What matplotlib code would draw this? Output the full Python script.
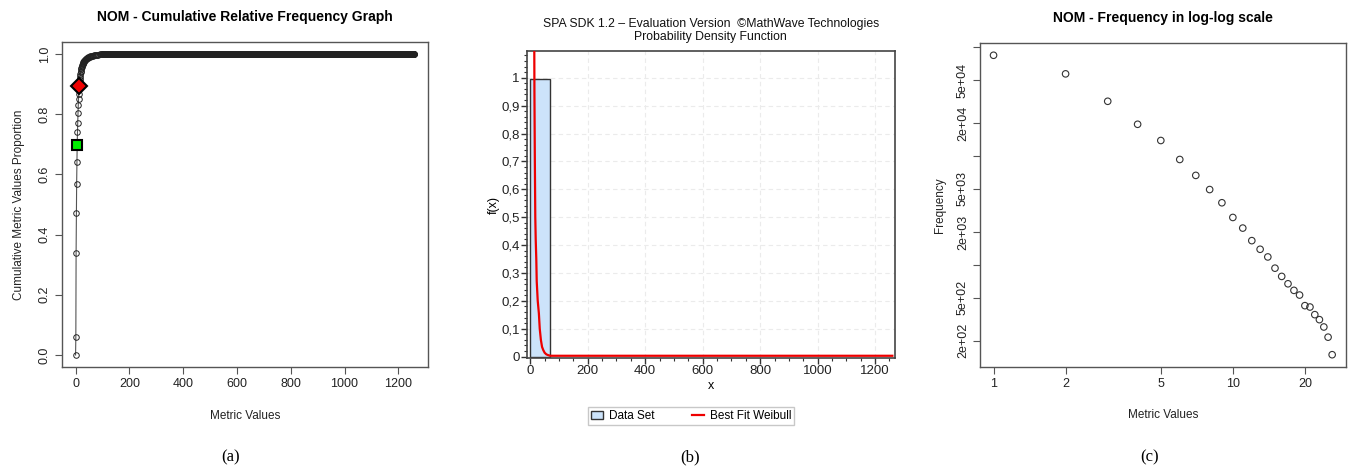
import matplotlib
matplotlib.use("Agg")
import matplotlib.pyplot as plt
from matplotlib.patches import Patch
from matplotlib.lines import Line2D
from matplotlib.ticker import MultipleLocator, FixedLocator
import numpy as np

# (a) cumulative relative frequency, NOM
cum_x = [0, 1, 2, 3, 4, 5, 6, 7, 8, 9, 10, 11, 12, 13,
         14, 15, 16, 17, 18, 19, 20, 21, 22, 23, 24, 25, 26, 27, 28, 29, 30,
         31, 32, 33, 34, 35, 36, 37, 38, 39, 40,
         42, 44, 46, 48, 50, 52, 55, 58, 61, 64, 68, 72, 76, 80, 85, 90, 95, 100]
cum_y = [0.0, 0.059, 0.339, 0.473, 0.568, 0.640, 0.697, 0.740, 0.771, 0.803, 0.829, 0.851, 0.868, 0.895,
         0.905, 0.913, 0.921, 0.928, 0.934, 0.940, 0.945, 0.949, 0.953, 0.957, 0.960, 0.963, 0.966,
         0.968, 0.970, 0.972, 0.974,
         0.976, 0.977, 0.978, 0.979, 0.980, 0.981, 0.982, 0.983, 0.984, 0.985,
         0.986, 0.987, 0.988, 0.989, 0.990, 0.991, 0.992, 0.993, 0.994, 0.995, 0.996, 0.997,
         0.997, 0.998, 0.998, 0.999, 0.999, 0.999]
plateau_first, plateau_last, plateau_value = 101, 1260, 1.0
green_pt = (6, 0.697)
red_pt = (13, 0.895)

# (b) density: histogram bin and best fit weibull
hist_left, hist_right, hist_height = 0, 70, 0.995
weib_x = [14, 14.5, 16, 17.5, 19, 21, 22.5, 26, 30, 33, 37, 41, 45, 50, 56, 63, 70, 1260]
weib_y = [1.12, 0.95, 0.70, 0.50, 0.42, 0.35, 0.27, 0.20, 0.155, 0.10, 0.06, 0.035, 0.024,
          0.014, 0.008, 0.005, 0.003, 0.003]

# (c) frequency log-log
freq_x = list(range(1, 27))
freq_y = [84500, 57000, 31900, 19600, 13900, 9300, 6640, 4920, 3720, 2725, 2176, 1668, 1389,
          1181, 931, 782, 669, 582, 527, 421, 409, 348, 313, 268, 216, 149]

R_FONT = ["Liberation Sans", "DejaVu Sans"]
SPA_FONT = ["Liberation Sans Narrow", "Liberation Sans", "DejaVu Sans"]
plt.rcParams["font.family"] = R_FONT

fig = plt.figure(figsize=(13.48, 4.67), dpi=100)
fig.patch.set_facecolor("white")

def r_style(ax):
    for s in ax.spines.values():
        s.set_color("#555555")
        s.set_linewidth(1.0)
    ax.tick_params(direction="out", length=5, width=0.8, color="#555555",
                   labelsize=9, labelcolor="#222222", pad=3)

# ---------- (a)
ax1 = fig.add_axes([0.046, 0.2141, 0.2715, 0.696])
px = cum_x + list(range(plateau_first, plateau_last + 1))
py = cum_y + [plateau_value] * (plateau_last - plateau_first + 1)
ax1.plot(px, py, color="#555555", lw=0.8, marker="o", ms=4, mfc="none",
         mec="#222222", mew=0.7)
ax1.plot(*green_pt, marker="s", ms=7.5, mfc="#00ee00", mec="black", mew=1.5)
ax1.plot(*red_pt, marker="D", ms=8, mfc="#ee0000", mec="black", mew=1.5)
ax1.set_xlim(-50.4, 1310.4)
ax1.set_ylim(-0.04, 1.04)
ax1.set_xticks([0, 200, 400, 600, 800, 1000, 1200])
ax1.set_yticks([0.0, 0.2, 0.4, 0.6, 0.8, 1.0])
ax1.set_yticklabels(["0.0", "0.2", "0.4", "0.6", "0.8", "1.0"], rotation=90, va="center")
r_style(ax1)
ax1.set_title("NOM - Cumulative Relative Frequency Graph", fontsize=10, fontweight="bold", pad=15)
ax1.set_xlabel("Metric Values", fontsize=8.5, color="#222222", labelpad=14)
ax1.set_ylabel("Cumulative Metric Values Proportion", fontsize=8.5, color="#222222", labelpad=10)

# ---------- (b)
ax2 = fig.add_axes([0.3907, 0.2328, 0.2732, 0.658])
ax2.bar(hist_left, hist_height, width=hist_right - hist_left, align="edge",
        color="#cce3fa", edgecolor="#333333", lw=1.0, zorder=2)
ax2.plot(weib_x, weib_y, color="#ee0000", lw=1.6, zorder=3)
ax2.set_xlim(-12.5, 1269)
ax2.set_ylim(-0.006, 1.096)
ax2.xaxis.set_major_locator(FixedLocator([0, 200, 400, 600, 800, 1000, 1200]))
ax2.xaxis.set_minor_locator(MultipleLocator(50))
yt = [0, 0.1, 0.2, 0.3, 0.4, 0.5, 0.6, 0.7, 0.8, 0.9, 1.0]
ax2.set_yticks(yt)
ax2.set_yticklabels(["0", "0,1", "0,2", "0,3", "0,4", "0,5", "0,6", "0,7", "0,8", "0,9", "1"],
                    family=SPA_FONT)
ax2.set_xticklabels(["0", "200", "400", "600", "800", "1000", "1200"], family=SPA_FONT)
ax2.yaxis.set_minor_locator(MultipleLocator(0.02))
for s in ax2.spines.values():
    s.set_color("#444444")
    s.set_linewidth(1.2)
ax2.tick_params(which="major", direction="out", length=4, width=1.0, color="#333333",
                labelsize=9.5, labelcolor="#222222", pad=1)
ax2.tick_params(which="minor", direction="out", length=2, width=0.8, color="#333333")
for v in [200, 400, 600, 800, 1000, 1200]:
    ax2.axvline(v, color="#ebebeb", lw=0.8, ls=(0, (4, 3)), zorder=0)
for v in yt[1:]:
    ax2.axhline(v, color="#ebebeb", lw=0.8, ls=(0, (4, 3)), zorder=0)
ax2.set_title("SPA SDK 1.2 \u2013 Evaluation Version  \u00a9MathWave Technologies\nProbability Density Function",
              fontsize=8.8, family=SPA_FONT, color="#111111", pad=8, linespacing=1.1)
ax2.set_xlabel("x", fontsize=9, family=SPA_FONT, labelpad=2)
ax2.set_ylabel("f(x)", fontsize=9, family=SPA_FONT, labelpad=1)
handles = [Patch(facecolor="#cce3fa", edgecolor="#333333", label="Data Set"),
           Line2D([0], [0], color="#ee0000", lw=1.6, label="Best Fit Weibull")]
leg = ax2.legend(handles=handles, loc="upper center", bbox_to_anchor=(0.446, -0.158), ncol=2,
                 frameon=True, fancybox=False, edgecolor="#bbbbbb", columnspacing=3.2,
                 handlelength=1.0, handletextpad=0.5, borderpad=0.25, borderaxespad=0,
                 prop={"family": SPA_FONT, "size": 8.5})
leg.get_frame().set_linewidth(1.0)

# ---------- (c)
ax3 = fig.add_axes([0.727, 0.2148, 0.2713, 0.6925])
ax3.scatter(freq_x, freq_y, s=22, facecolors="none", edgecolors="#333333", linewidths=0.8)
ax3.set_xscale("log")
ax3.set_yscale("log")
ax3.set_xlim(10 ** -0.0566, 10 ** 1.4716)
ax3.set_ylim(10 ** 2.063, 10 ** 5.037)
ax3.xaxis.set_major_locator(FixedLocator([1, 2, 5, 10, 20]))
ax3.xaxis.set_minor_locator(FixedLocator([]))
ax3.set_xticklabels(["1", "2", "5", "10", "20"])
yl = [200, 500, 1000, 2000, 5000, 10000, 20000, 50000, 100000]
ax3.yaxis.set_major_locator(FixedLocator(yl))
ax3.yaxis.set_minor_locator(FixedLocator([]))
ax3.set_yticklabels(["2e+02", "5e+02", "", "2e+03", "5e+03", "", "2e+04", "5e+04", ""],
                    rotation=90, va="center")
r_style(ax3)
ax3.set_title("NOM - Frequency in log-log scale", fontsize=10, fontweight="bold", pad=15)
ax3.set_xlabel("Metric Values", fontsize=8.5, color="#222222", labelpad=14)
ax3.set_ylabel("Frequency", fontsize=8.5, color="#222222", labelpad=8)

# captions
for xc, txt in [(231, "(a)"), (690, "(b)"), (1150, "(c)")]:
    fig.text(xc / 1348, 1 - 457 / 467, txt, ha="center", va="center",
             family=["Liberation Serif", "DejaVu Serif"], fontsize=12)

fig.savefig("out.png", dpi=100, facecolor="white")
